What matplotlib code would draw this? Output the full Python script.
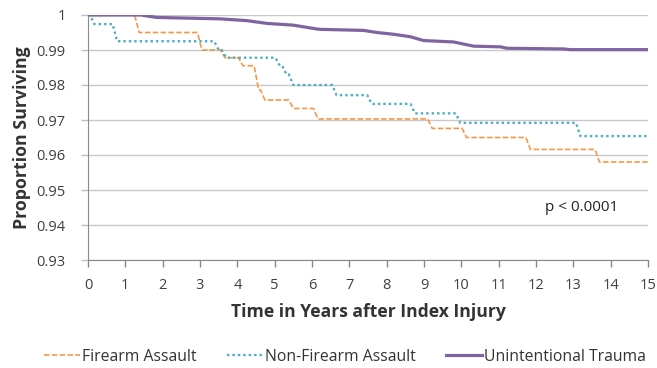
import matplotlib
matplotlib.use("Agg")
import matplotlib.pyplot as plt
from matplotlib.lines import Line2D

plt.rcParams['font.family'] = ['Open Sans', 'DejaVu Sans']

# Firearm Assault (event times, survival after event)
fa_t = [0, 1.25, 2.93, 3.55, 4.03, 4.45, 4.62, 5.38, 6.04, 9.1, 10.02, 11.73, 13.58]
fa_s = [1.0, 0.995, 0.990, 0.9878, 0.9855, 0.9786, 0.9757, 0.9733, 0.9703, 0.9676, 0.965, 0.9616, 0.958]

# Non-Firearm Assault
nf_t = [0, 0.05, 0.66, 3.38, 3.58, 5.02, 5.2, 5.38, 6.54, 7.48, 8.64, 9.85, 13.07]
nf_s = [1.0, 0.9974, 0.9925, 0.990, 0.9878, 0.9855, 0.983, 0.980, 0.9771, 0.9746, 0.9719, 0.9692, 0.9654]

# Unintentional Trauma
ut_t = [0, 1.41, 1.84, 3.54, 4.25, 4.79, 5.5, 6.13, 6.22, 7.38, 7.74, 8.18, 8.63, 8.99, 9.79, 10.33, 11.05, 11.22, 12.74, 12.92, 15]
ut_s = [1.0, 1.0, 0.9993, 0.9989, 0.9984, 0.9976, 0.9971, 0.996, 0.9959, 0.9956, 0.995, 0.9945, 0.9938, 0.9927, 0.9923, 0.9911, 0.9909, 0.9905, 0.9903, 0.9901, 0.9901]

t_end = 15
x_ticks = list(range(0, 16))
y_ticks = [0.93, 0.94, 0.95, 0.96, 0.97, 0.98, 0.99, 1.0]
y_labels = ['0.93', '0.94', '0.95', '0.96', '0.97', '0.98', '0.99', '1']

c_fa = '#F79646'
c_nf = '#4BACC6'
c_ut = '#8064A2'


def km_path(ts, ss, end, slant=0.12):
    """Step path with short slanted drops (as in a spreadsheet line chart)."""
    xs, ys = [ts[0]], [ss[0]]
    for i in range(1, len(ts)):
        xs.append(ts[i]); ys.append(ss[i - 1])
        xs.append(ts[i] + slant); ys.append(ss[i])
    xs.append(end); ys.append(ss[-1])
    return xs, ys


fig = plt.figure(figsize=(6.57, 3.68), dpi=100)
ax = fig.add_axes([88/657, 1-260/368, (648-88)/657, (260-15)/368])

fx, fy = km_path(fa_t, fa_s, t_end)
nx, ny = km_path(nf_t, nf_s, t_end)
fa_ls = (0, (3.3, 1.4))
nf_ls = (0, (1.0, 1.3))
ax.plot(fx, fy, color=c_fa, lw=1.2, ls=fa_ls)
ax.plot(nx, ny, color=c_nf, lw=1.7, ls=nf_ls, dash_capstyle='butt')
ax.plot(ut_t, ut_s, color=c_ut, lw=2.3)

ax.set_xlim(0, 15)
ax.set_ylim(0.93, 1.0)
ax.set_xticks(x_ticks)
ax.set_yticks(y_ticks)
ax.set_yticklabels(y_labels)
ax.grid(axis='y', color='#c8c8c8', lw=1.0)
ax.set_axisbelow(True)
for s in ['top', 'right']:
    ax.spines[s].set_visible(False)
for s in ['left', 'bottom']:
    ax.spines[s].set_color('#888888')
ax.tick_params(axis='both', colors='#888888', labelcolor='#404040', labelsize=10.5, length=5, width=1)
ax.tick_params(axis='y', color='#c0c0c0', pad=11)
ax.tick_params(axis='x', pad=8)

ax.set_ylabel('Proportion Surviving', fontsize=12.8, fontweight='bold', color='#333333', labelpad=4)
ax.set_xlabel('Time in Years after Index Injury', fontsize=12.6, fontweight='bold', color='#333333', labelpad=7)

ax.text(13.22, 0.9449, 'p < 0.0001', fontsize=11, color='#222222', ha='center', va='center')

handles = [
    Line2D([], [], color=c_fa, lw=1.2, ls=fa_ls),
    Line2D([], [], color=c_nf, lw=1.7, ls=nf_ls, dash_capstyle='butt'),
    Line2D([], [], color=c_ut, lw=2.3),
]
fig.legend(handles, ['Firearm Assault', 'Non-Firearm Assault', 'Unintentional Trauma'],
           loc='center', bbox_to_anchor=(0.525, 0.03), ncol=3, frameon=False,
           fontsize=11.3, handlelength=2.3, handletextpad=0.15, columnspacing=1.9,
           labelcolor='#333333')

fig.savefig('out.png', dpi=100)
